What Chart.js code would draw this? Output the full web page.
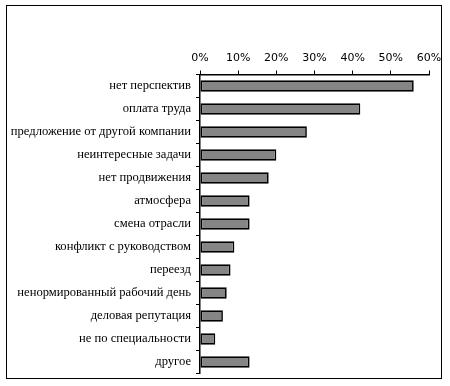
<!DOCTYPE html>
<html lang="ru">
<head>
<meta charset="UTF-8">
<title>Причины ухода</title>
<script src="https://cdn.jsdelivr.net/npm/chart.js"></script>
<style>
  body { margin: 0; background: #fff; }
  #wrap { position: relative; width: 450px; height: 386px; }
</style>
</head>
<body>
<div id="wrap">
  <canvas id="reasonsChart" width="450" height="386"></canvas>
</div>
<script>
// categories (top to bottom) and shares in %
const reasons = [
  'нет перспектив',
  'оплата труда',
  'предложение от другой компании',
  'неинтересные задачи',
  'нет продвижения',
  'атмосфера',
  'смена отрасли',
  'конфликт с руководством',
  'переезд',
  'ненормированный рабочий день',
  'деловая репутация',
  'не по специальности',
  'другое'
];
const shares = [56, 42, 28, 20, 18, 13, 13, 9, 8, 7, 6, 4, 13];
const xTicks = [0, 10, 20, 30, 40, 50, 60];

// outer frame around the whole picture
const framePlugin = {
  id: 'frame',
  afterDraw(chart) {
    const c = chart.ctx;
    c.save();
    c.strokeStyle = '#000';
    c.lineWidth = 1;
    c.strokeRect(6.5, 5.5, 435, 373);
    c.restore();
  }
};

const ctx = document.getElementById('reasonsChart').getContext('2d');
new Chart(ctx, {
  type: 'bar',
  data: {
    labels: reasons,
    datasets: [{
      data: shares,
      backgroundColor: '#858585',
      borderColor: '#000',
      borderWidth: 1.7,
      borderSkipped: false,
      categoryPercentage: 1,
      barPercentage: 0.5
    }]
  },
  options: {
    indexAxis: 'y',
    responsive: false,
    animation: false,
    layout: { padding: { left: 0, right: 21, top: 0, bottom: 8 } },
    plugins: { legend: { display: false }, tooltip: { enabled: false } },
    scales: {
      x: {
        position: 'top',
        min: 0,
        max: 60,
        afterBuildTicks(axis) { axis.ticks = xTicks.map(v => ({ value: v })); },
        afterFit(axis) { axis.height = 74.5; },
        grid: { drawOnChartArea: false, drawTicks: true, tickLength: 4, color: '#000' },
        border: { color: '#000', width: 1.5 },
        ticks: {
          color: '#000',
          padding: 6,
          maxRotation: 0,
          font: { family: 'DejaVu Sans', size: 11 },
          callback: v => v + '%'
        }
      },
      y: {
        afterFit(axis) { axis.width = 200; },
        grid: { drawOnChartArea: false, drawTicks: true, tickLength: 4, color: '#000', offset: true },
        border: { color: '#000', width: 1.5 },
        ticks: {
          color: '#000',
          padding: 5,
          font: { family: 'Liberation Serif', size: 12.6 }
        }
      }
    }
  },
  plugins: [framePlugin]
});
</script>
</body>
</html>
